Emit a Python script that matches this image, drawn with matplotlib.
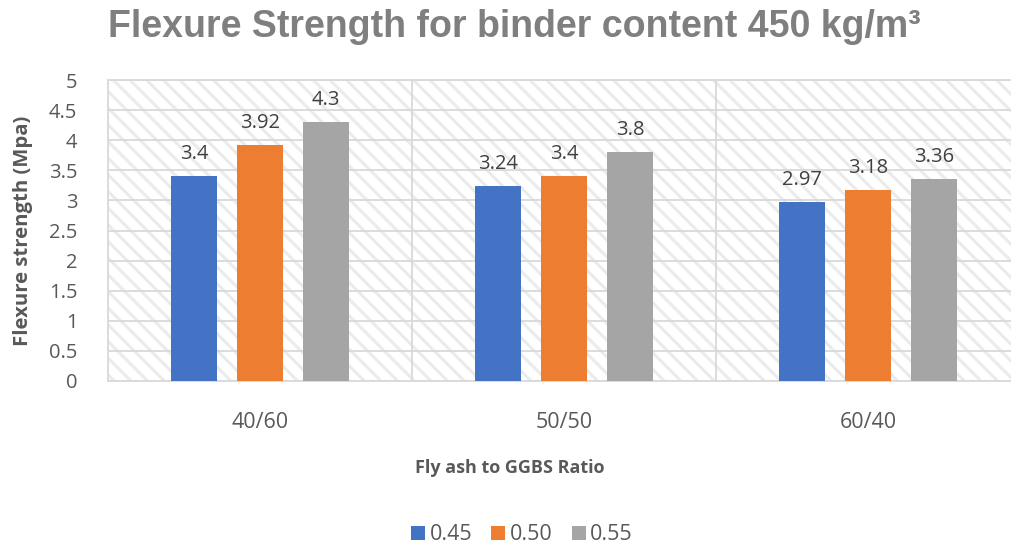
import matplotlib.pyplot as plt
import numpy as np

ratios = ["40/60", "50/50", "60/40"]
wb_labels = ["0.45", "0.50", "0.55"]
strength = {
    "0.45": [3.4, 3.24, 2.97],
    "0.50": [3.92, 3.4, 3.18],
    "0.55": [4.3, 3.8, 3.36],
}
colors = ["#4472c4", "#ed7d31", "#a5a5a5"]
grey_text = "#595959"
line_grey = "#d9d9d9"

plt.rcParams["font.family"] = ["Open Sans", "DejaVu Sans"]
plt.rcParams["hatch.color"] = "#ebebeb"
plt.rcParams["hatch.linewidth"] = 2.2

fig = plt.figure(figsize=(10.12, 5.46), dpi=100)
ax = fig.add_axes([108 / 1012, 1 - 381 / 546, 912 / 1012, 301 / 546])

# hatched plot background
ax.add_patch(plt.Rectangle((0, 0), 1, 1, transform=ax.transAxes, facecolor="white",
                           edgecolor="#ebebeb", linewidth=0, hatch="\\\\", zorder=0))

x = np.arange(len(ratios))
width = 0.15
step = 0.217
for i, (lab, col) in enumerate(zip(wb_labels, colors)):
    vals = strength[lab]
    bars = ax.bar(x + (i - 1) * step, vals, width, color=col, label=lab, zorder=3)
    for b, v in zip(bars, vals):
        ax.text(b.get_x() + b.get_width() / 2, v + 0.2, f"{v:g}", ha="center", va="bottom",
                fontsize=14.5, color="#404040", zorder=4)

ax.set_xlim(-0.5, 2.5)
ax.set_ylim(0, 5)
yt = np.arange(0, 5.01, 0.5)
ax.set_yticks(yt)
ax.set_yticklabels([f"{t:g}" for t in yt])
ax.set_xticks(x)
ax.set_xticklabels(ratios)
ax.tick_params(axis="both", length=0, labelcolor=grey_text)
ax.tick_params(axis="x", labelsize=15.5, pad=22)
ax.tick_params(axis="y", labelsize=14.5, pad=22)

ax.grid(axis="y", color=line_grey, linewidth=1.3, zorder=1)
for sep in [0.5, 1.5]:
    ax.axvline(sep, color=line_grey, linewidth=1.3, zorder=1)
for s in ax.spines.values():
    s.set_color(line_grey)
    s.set_linewidth(1.3)

ax.set_xlabel("Fly ash to GGBS Ratio", fontsize=13, fontweight="bold", color=grey_text)
ax.set_ylabel("Flexure strength (Mpa)", fontsize=14.6, fontweight="bold", color=grey_text)
ax.xaxis.set_label_coords((510 - 108) / 912, (381 - 459) / 301)
ax.yaxis.set_label_coords((33 - 108) / 912, 0.5)

fig.text(108 / 1012, 1 - 27 / 546, "Flexure Strength for binder content 450 kg/m\u00b3",
         fontsize=27, fontweight="bold", color="#7f7f7f", family="Liberation Sans",
         ha="left", va="center")

ax.legend(loc="center", bbox_to_anchor=(522 / 1012, 1 - 535 / 546), bbox_transform=fig.transFigure,
          ncol=3, frameon=False, fontsize=15.5, handlelength=0.65, handleheight=0.65,
          handletextpad=0.2, columnspacing=0.9, labelcolor=grey_text)

fig.savefig("out.png", dpi=100)
